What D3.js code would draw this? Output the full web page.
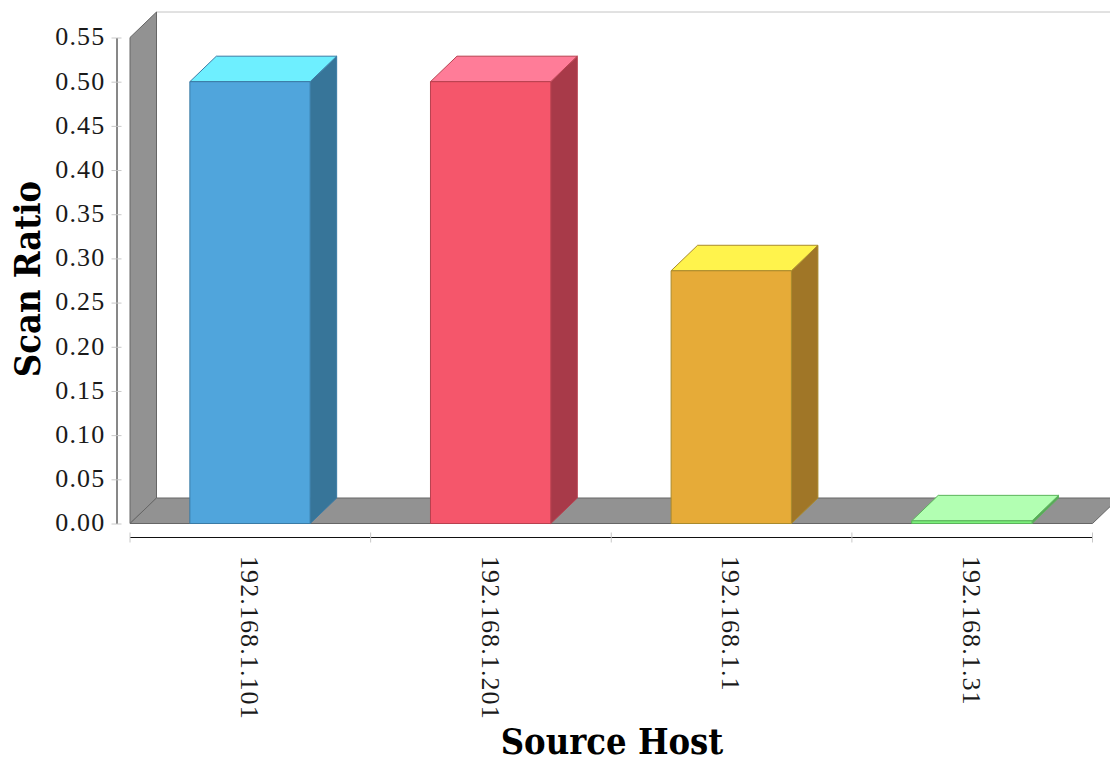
<!DOCTYPE html>
<html>
<head>
<meta charset="utf-8">
<script src="https://cdn.jsdelivr.net/npm/d3@7/dist/d3.min.js"></script>
<style>
  html, body { margin: 0; padding: 0; background: #fff; }
  svg { display: block; }
  .tick text, .label { font-family: "Liberation Serif", serif; fill: #1a1a1a; }
  .title { font-family: "DejaVu Serif", serif; font-weight: bold; fill: #000; }
</style>
</head>
<body>
<svg id="chart" width="1110" height="763"></svg>
<script>
// Scan ratio per source host
const hosts = ["192.168.1.101", "192.168.1.201", "192.168.1.1", "192.168.1.31"];
const ratios = [0.5, 0.5, 0.286, 0.003];
const yTicks = [0, 0.05, 0.1, 0.15, 0.2, 0.25, 0.3, 0.35, 0.4, 0.45, 0.5, 0.55];

// Bar faces: front, top, side
const faceFront = ["#50a5dc", "#f5566b", "#e6ab38", "#7cf07c"];
const faceTop = ["#6eefff", "#ff7c98", "#fff34c", "#b2ffb2"];
const faceSide = ["#377599", "#a83a49", "#a07627", "#57a857"];
const edgeColor = ["#3a7ba5", "#b8404f", "#a98a2c", "#5cb45c"];

const svg = d3.select("#chart");
const depthX = 26.5, depthY = 25.5;
const left = 130, right = 1092.5, floorY = 523.5, topY = 37.5;

const x = d3.scaleBand().domain(hosts).range([left - 0.3, right - 0.3]).paddingInner(0.5).paddingOuter(0.25);
const y = d3.scaleLinear().domain([0, 0.55]).range([floorY, topY]);
const poly = pts => "M" + pts.map(p => p.join(",")).join("L") + "Z";

// Back wall top edge, left wall and floor of the 3D box
svg.append("path")
  .attr("d", `M${left + depthX},${floorY - depthY}V${topY - depthY}H1110`)
  .attr("fill", "none").attr("stroke", "#c4c4c4").attr("stroke-width", 1);
svg.append("path")
  .attr("d", poly([[left, floorY], [left, topY], [left + depthX, topY - depthY], [left + depthX, floorY - depthY]]))
  .attr("fill", "#929292").attr("stroke", "#666").attr("stroke-width", 1);
svg.append("path")
  .attr("d", poly([[left, floorY], [left + depthX, floorY - depthY], [right + depthX, floorY - depthY], [right, floorY]]))
  .attr("fill", "#929292").attr("stroke", "#666").attr("stroke-width", 1);

// Bars as three extruded faces
const bars = svg.append("g").selectAll("g").data(hosts).join("g");
bars.each(function (h, i) {
  const g = d3.select(this), x0 = x(h), x1 = x0 + x.bandwidth(), yt = y(ratios[i]), yb = y(0);
  g.append("path")
    .attr("d", poly([[x1, yb], [x1, yt], [x1 + depthX, yt - depthY], [x1 + depthX, yb - depthY]]))
    .attr("fill", faceSide[i]).attr("stroke", edgeColor[i]);
  g.append("path")
    .attr("d", poly([[x0, yt], [x0 + depthX, yt - depthY], [x1 + depthX, yt - depthY], [x1, yt]]))
    .attr("fill", faceTop[i]).attr("stroke", edgeColor[i]);
  g.append("path")
    .attr("d", poly([[x0, yb], [x0, yt], [x1, yt], [x1, yb]]))
    .attr("fill", faceFront[i]).attr("stroke", edgeColor[i]);
});

// Value axis
const yAxis = svg.append("g").attr("transform", "translate(116.5,0)")
  .call(d3.axisLeft(y).tickValues(yTicks).tickFormat(d3.format(".2f")).tickSize(5).tickSizeOuter(0));
yAxis.select(".domain").attr("stroke", "#111").attr("stroke-width", 1);
yAxis.selectAll(".tick line").attr("x2", -5).clone().attr("x2", 5);
yAxis.selectAll(".tick line").attr("stroke", "#c8c8c8");
yAxis.selectAll(".tick text").attr("x", -11).attr("y", -1.5).attr("dy", "0.34em")
  .style("font-size", "26px").style("letter-spacing", "1.2px").attr("text-anchor", "end");

// Category axis, offset below the floor, with tick marks at the band edges
const edges = d3.scaleLinear().domain([0, hosts.length]).range([left, right]);
const xAxis = svg.append("g").attr("transform", "translate(0,537.5)");
xAxis.append("line").attr("x1", left).attr("x2", right).attr("stroke", "#111");
xAxis.selectAll("line.edge").data(d3.range(hosts.length + 1)).join("line")
  .attr("class", "edge")
  .attr("x1", d => edges(d)).attr("x2", d => edges(d))
  .attr("y1", -5).attr("y2", 5).attr("stroke", "#c8c8c8");
xAxis.selectAll("text").data(hosts).join("text")
  .attr("class", "label")
  .attr("transform", h => `translate(${x(h) + x.bandwidth() / 2},18.5) rotate(90)`)
  .attr("dy", "0.34em")
  .style("font-size", "26px").style("letter-spacing", "1.1px")
  .text(h => h);

// Axis titles, condensed horizontally for a taller letterform
svg.append("text").attr("class", "title")
  .attr("transform", "translate(39.5,279) rotate(-90) scale(0.9,1)")
  .attr("text-anchor", "middle").style("font-size", "36px").text("Scan Ratio");
svg.append("text").attr("class", "title")
  .attr("transform", "translate(612,754.4) scale(0.9,1)")
  .attr("text-anchor", "middle").style("font-size", "36px").text("Source Host");
</script>
</body>
</html>
